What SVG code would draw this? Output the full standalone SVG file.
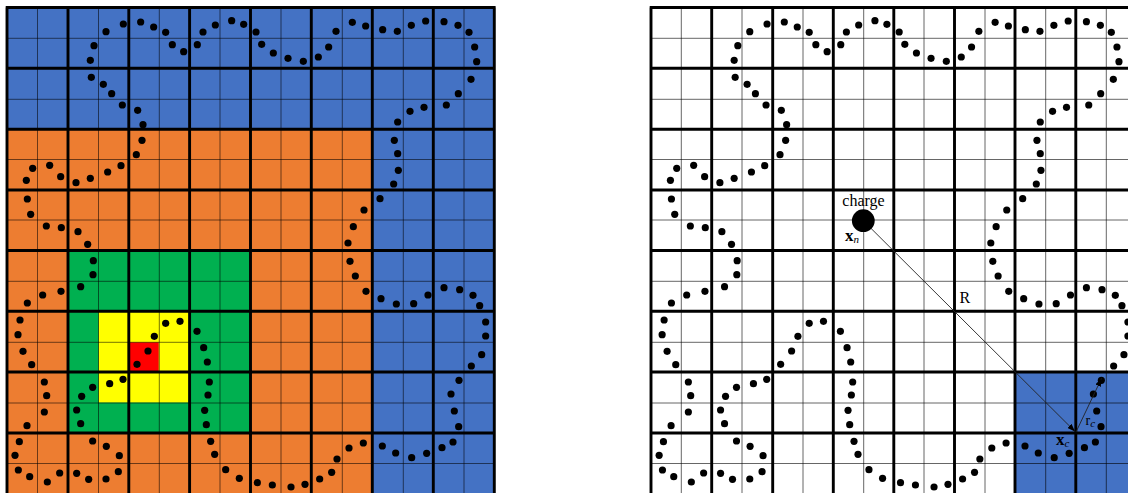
<svg xmlns="http://www.w3.org/2000/svg" xmlns:xlink="http://www.w3.org/1999/xlink" width="1128" height="493" viewBox="0 0 1128 493">
<style>
.thick{fill:none;stroke:#000;stroke-width:2.9}
.thin{fill:none;stroke:#000;stroke-width:1;stroke-opacity:.55}
.thinr{fill:none;stroke:#000;stroke-width:1;stroke-opacity:.6}
.lead{fill:none;stroke:#222;stroke-width:.9}
.dot circle{fill:#000;stroke:none;r:10.8px}
text{font-family:"Liberation Serif","DejaVu Serif",serif;fill:#000}
.sm{font-size:11px}
.lb{font-size:16px}
.bold{font-weight:bold;font-size:17px}
</style>
<defs>
<marker id="arr" viewBox="0 0 8 6" refX="8" refY="3" markerWidth="8" markerHeight="6" markerUnits="userSpaceOnUse" orient="auto"><path d="M0 0L8 3L0 6Z" fill="#000"/></marker>
<g id="dots" class="dot">
<g transform="scale(.33333)">
<circle cx="370" cy="72" r="10.8"/><circle cx="318" cy="95" r="10.8"/><circle cx="282" cy="137" r="10.8"/><circle cx="271" cy="181" r="10.8"/><circle cx="274" cy="232" r="10.8"/><circle cx="310" cy="253" r="10.8"/><circle cx="335" cy="281" r="10.8"/><circle cx="367" cy="315" r="10.8"/><circle cx="413" cy="331" r="10.8"/><circle cx="429" cy="374" r="10.8"/><circle cx="426" cy="421" r="10.8"/><circle cx="409" cy="464" r="10.8"/><circle cx="363" cy="497" r="10.8"/><circle cx="323" cy="516" r="10.8"/><circle cx="271" cy="535" r="10.8"/><circle cx="228" cy="548" r="10.8"/><circle cx="182" cy="530" r="10.8"/><circle cx="149" cy="496" r="10.8"/><circle cx="98" cy="505" r="10.8"/><circle cx="79" cy="541" r="10.8"/><circle cx="82" cy="597" r="10.8"/><circle cx="92" cy="643" r="10.8"/><circle cx="139" cy="678" r="10.8"/><circle cx="184" cy="683" r="10.8"/><circle cx="234" cy="695" r="10.8"/><circle cx="263" cy="733" r="10.8"/><circle cx="422" cy="66" r="10.8"/><circle cx="461" cy="81" r="10.8"/><circle cx="497" cy="97" r="10.8"/><circle cx="517" cy="134" r="10.8"/><circle cx="551" cy="155" r="10.8"/><circle cx="592" cy="134" r="10.8"/><circle cx="609" cy="96" r="10.8"/><circle cx="646" cy="75" r="10.8"/><circle cx="695" cy="62" r="10.8"/><circle cx="731" cy="73" r="10.8"/>
</g>
<g transform="translate(250,0) scale(.33333)">
<circle cx="18" cy="96" r="10.8"/><circle cx="35" cy="133" r="10.8"/><circle cx="70" cy="159" r="10.8"/><circle cx="114" cy="175" r="10.8"/><circle cx="160" cy="184" r="10.8"/><circle cx="205" cy="171" r="10.8"/><circle cx="236" cy="141" r="10.8"/><circle cx="258" cy="94" r="10.8"/><circle cx="307" cy="67" r="10.8"/><circle cx="347" cy="78" r="10.8"/><circle cx="398" cy="89" r="10.8"/><circle cx="442" cy="94" r="10.8"/><circle cx="484" cy="76" r="10.8"/><circle cx="527" cy="63" r="10.8"/><circle cx="582" cy="65" r="10.8"/><circle cx="624" cy="76" r="10.8"/><circle cx="657" cy="97" r="10.8"/><circle cx="674" cy="141" r="10.8"/><circle cx="680" cy="185" r="10.8"/><circle cx="663" cy="238" r="10.8"/><circle cx="625" cy="281" r="10.8"/><circle cx="589" cy="315" r="10.8"/><circle cx="522" cy="322" r="10.8"/><circle cx="480" cy="334" r="10.8"/><circle cx="443" cy="366" r="10.8"/><circle cx="433" cy="421" r="10.8"/><circle cx="443" cy="461" r="10.8"/><circle cx="445" cy="511" r="10.8"/><circle cx="431" cy="552" r="10.8"/><circle cx="390" cy="596" r="10.8"/><circle cx="342" cy="630" r="10.8"/><circle cx="310" cy="680" r="10.8"/><circle cx="294" cy="729" r="10.8"/>
</g>
<g transform="translate(0,243) scale(.33333)">
<circle cx="280" cy="53" r="10.8"/><circle cx="279" cy="95" r="10.8"/><circle cx="242" cy="131" r="10.8"/><circle cx="183" cy="145" r="10.8"/><circle cx="128" cy="156" r="10.8"/><circle cx="82" cy="180" r="10.8"/><circle cx="60" cy="231" r="10.8"/><circle cx="54" cy="275" r="10.8"/><circle cx="69" cy="325" r="10.8"/><circle cx="95" cy="365" r="10.8"/><circle cx="133" cy="417" r="10.8"/><circle cx="140" cy="458" r="10.8"/><circle cx="133" cy="507" r="10.8"/><circle cx="81" cy="548" r="10.8"/><circle cx="58" cy="596" r="10.8"/><circle cx="45" cy="637" r="10.8"/><circle cx="55" cy="681" r="10.8"/><circle cx="89" cy="701" r="10.8"/><circle cx="142" cy="717" r="10.8"/><circle cx="179" cy="690" r="10.8"/><circle cx="230" cy="691" r="10.8"/><circle cx="266" cy="709" r="10.8"/><circle cx="318" cy="708" r="10.8"/><circle cx="355" cy="686" r="10.8"/><circle cx="358" cy="638" r="10.8"/><circle cx="319" cy="610" r="10.8"/><circle cx="278" cy="594" r="10.8"/><circle cx="242" cy="542" r="10.8"/><circle cx="230" cy="501" r="10.8"/><circle cx="245" cy="460" r="10.8"/><circle cx="278" cy="433" r="10.8"/><circle cx="329" cy="422" r="10.8"/><circle cx="369" cy="409" r="10.8"/><circle cx="411" cy="364" r="10.8"/><circle cx="444" cy="324" r="10.8"/><circle cx="463" cy="280" r="10.8"/><circle cx="497" cy="241" r="10.8"/><circle cx="540" cy="235" r="10.8"/><circle cx="591" cy="265" r="10.8"/><circle cx="611" cy="314" r="10.8"/><circle cx="622" cy="357" r="10.8"/><circle cx="628" cy="417" r="10.8"/><circle cx="624" cy="456" r="10.8"/><circle cx="614" cy="502" r="10.8"/><circle cx="619" cy="545" r="10.8"/><circle cx="632" cy="595" r="10.8"/><circle cx="644" cy="634" r="10.8"/><circle cx="677" cy="680" r="10.8"/><circle cx="718" cy="706" r="10.8"/>
</g>
<g transform="translate(250,243) scale(.33333)">
<circle cx="300" cy="55" r="10.8"/><circle cx="316" cy="99" r="10.8"/><circle cx="348" cy="145" r="10.8"/><circle cx="393" cy="167" r="10.8"/><circle cx="439" cy="183" r="10.8"/><circle cx="491" cy="182" r="10.8"/><circle cx="534" cy="156" r="10.8"/><circle cx="582" cy="134" r="10.8"/><circle cx="629" cy="140" r="10.8"/><circle cx="669" cy="157" r="10.8"/><circle cx="689" cy="188" r="10.8"/><circle cx="707" cy="237" r="10.8"/><circle cx="707" cy="279" r="10.8"/><circle cx="695" cy="335" r="10.8"/><circle cx="664" cy="369" r="10.8"/><circle cx="627" cy="412" r="10.8"/><circle cx="603" cy="453" r="10.8"/><circle cx="613" cy="504" r="10.8"/><circle cx="626" cy="551" r="10.8"/><circle cx="609" cy="597" r="10.8"/><circle cx="576" cy="614" r="10.8"/><circle cx="530" cy="631" r="10.8"/><circle cx="485" cy="644" r="10.8"/><circle cx="437" cy="630" r="10.8"/><circle cx="397" cy="609" r="10.8"/><circle cx="340" cy="600" r="10.8"/><circle cx="297" cy="615" r="10.8"/><circle cx="261" cy="648" r="10.8"/><circle cx="245" cy="688" r="10.8"/><circle cx="209" cy="708" r="10.8"/><circle cx="165" cy="724" r="10.8"/><circle cx="123" cy="732" r="10.8"/><circle cx="67" cy="726" r="10.8"/><circle cx="22" cy="719" r="10.8"/>
</g>
</g>
</defs>
<rect width="1128" height="493" fill="#fff"/>
<g id="left-panel">
<rect x="7" y="7" width="488" height="486" fill="#4472c4"/>
<rect x="7" y="129" width="365" height="364" fill="#ed7d31"/>
<rect x="68" y="250.5" width="182" height="182.5" fill="#00b050"/>
<rect x="98.7" y="311.5" width="90" height="91" fill="#ffff00"/>
<rect x="129.7" y="342.3" width="29" height="29" fill="#ff0000"/>
<path class="thin" d="M37.5 7V493M98.5 7V493M159.3 7V493M220 7V493M281 7V493M342.3 7V493M403.3 7V493M464 7V493M7 38.3H495M7 99.3H495M7 159.5H495M7 220H495M7 281.3H495M7 342.3H495M7 403H495M7 463.5H495"/>
<path class="thick" d="M7 7.5V493M68 7.5V493M128.8 7.5V493M189.6 7.5V493M250.5 7.5V493M311.3 7.5V493M372.3 7.5V493M433.3 7.5V493M494.3 7.5V493M5.7 7.5H495.6M5.7 68.3H495.6M5.7 129.2H495.6M5.7 190H495.6M5.7 250.5H495.6M5.7 311.3H495.6M5.7 372H495.6M5.7 433H495.6"/>
<use href="#dots" xlink:href="#dots"/>
</g>
<g id="right-panel">
<rect x="1015" y="372" width="113" height="121" fill="#4472c4"/>
<path class="thinr" d="M681.3 7V493M742 7V493M803 7V493M863.7 7V493M924 7V493M985 7V493M1045.7 7V493M1106.3 7V493M651 38.3H1128M651 99.3H1128M651 159.5H1128M651 220H1128M651 281.3H1128M651 342.3H1128M651 403H1128M651 463.5H1128"/>
<path class="thick" d="M651 7.5V493M711.7 7.5V493M772.7 7.5V493M833.3 7.5V493M893.8 7.5V493M954.5 7.5V493M1015 7.5V493M1075.8 7.5V493M649.7 7.5H1128M649.7 68.3H1128M649.7 129.2H1128M649.7 190H1128M649.7 250.5H1128M649.7 311.3H1128M649.7 372H1128M649.7 433H1128"/>
<use href="#dots" xlink:href="#dots" transform="translate(644.2,0) scale(.996,1)"/>
</g>
<g id="connectors">
<path class="lead" d="M863.3 220.7L1075 431.5" marker-end="url(#arr)"/>
<path class="lead" d="M1076 432L1101.5 378.5" marker-end="url(#arr)"/>
</g>
<g id="charge">
<circle cx="863.3" cy="220.7" r="11.4" fill="#000"/>
<text class="lb" x="863.5" y="206" text-anchor="middle">charge</text>
<text x="845" y="241"><tspan class="bold">x</tspan><tspan class="sm" dy="2" font-style="italic">n</tspan></text>
</g>
<g id="labels">
<text class="lb" x="959.5" y="302.5">R</text>
<text x="1056" y="445"><tspan class="bold">x</tspan><tspan class="sm" dy="2" font-style="italic">c</tspan></text>
<text x="1085.5" y="425"><tspan font-size="14">r</tspan><tspan class="sm" dy="2" font-style="italic">c</tspan></text>
</g>
</svg>
